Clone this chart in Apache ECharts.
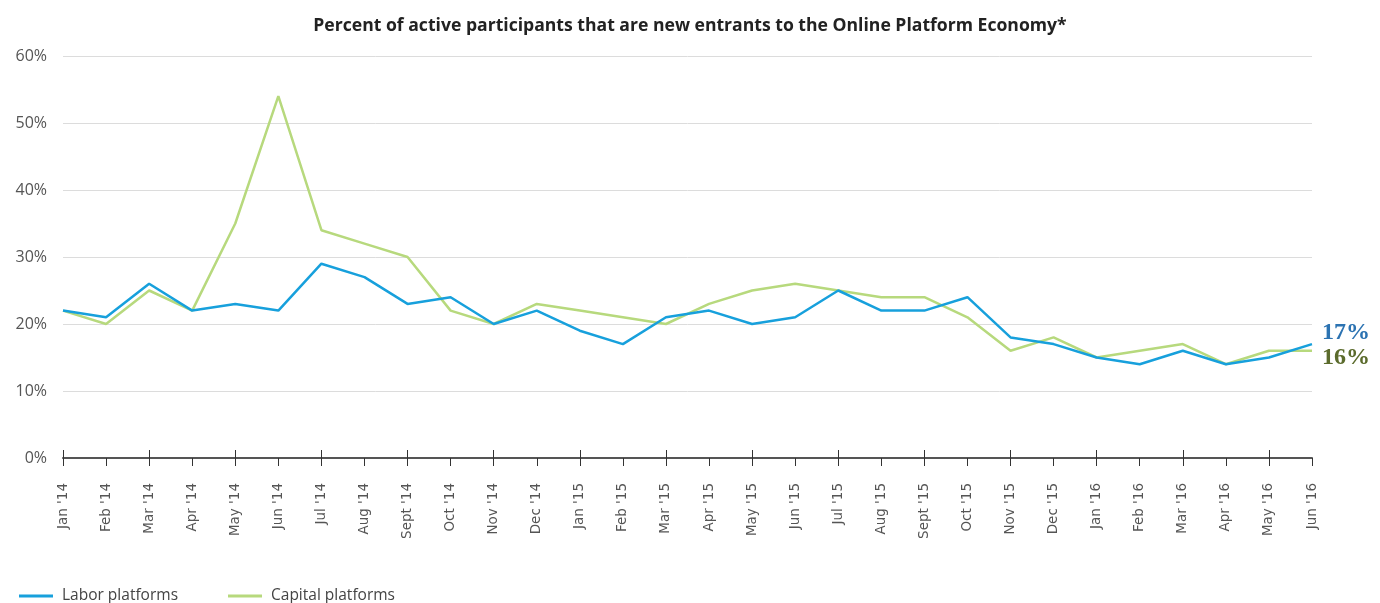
<!DOCTYPE html>
<html><head><meta charset="utf-8">
<script src="https://cdn.jsdelivr.net/npm/echarts@6/dist/echarts.min.js"></script>
<style>html,body{margin:0;padding:0;background:#fff}#c{width:1380px;height:603px}</style>
</head><body><div id="c"></div>
<script>
const categories = ["Jan '14","Feb '14","Mar '14","Apr '14","May '14","Jun '14","Jul '14","Aug '14","Sept '14","Oct '14","Nov '14","Dec '14",
"Jan '15","Feb '15","Mar '15","Apr '15","May '15","Jun '15","Jul '15","Aug '15","Sept '15","Oct '15","Nov '15","Dec '15",
"Jan '16","Feb '16","Mar '16","Apr '16","May '16","Jun '16"];
const laborPlatforms = [22,21,26,22,23,22,29,27,23,24,20,22,19,17,21,22,20,21,25,22,22,24,18,17,15,14,16,14,15,17];
const capitalPlatforms = [22,20,25,22,35,54,34,32,30,22,20,23,22,21,20,23,25,26,25,24,24,21,16,18,15,16,17,14,16,16];
const yTicks = [0,10,20,30,40,50,60];

const condensed = "'Open Sans',sans-serif";
const chart = echarts.init(document.getElementById('c'));
chart.setOption({
  animation:false,
  title:{text:'Percent of active participants that are new entrants to the Online Platform Economy*',left:'center',top:12,
    textStyle:{fontFamily:condensed,fontWeight:'bold',fontSize:17.6,color:'#222'}},
  grid:{left:63,right:68,top:56,bottom:145},
  legend:{left:14,top:583,itemWidth:34,itemHeight:3,itemGap:50,icon:'rect',
    textStyle:{fontFamily:condensed,fontSize:15.5,color:'#444',padding:[0,0,0,4]},
    data:['Labor platforms','Capital platforms']},
  xAxis:[{type:'category',data:categories,boundaryGap:false,
    axisLine:{lineStyle:{color:'#555',width:2}},
    axisTick:{length:8,lineStyle:{color:'#333',width:1}},
    axisLabel:{rotate:90,margin:25,fontFamily:'DejaVu Sans',fontSize:13.5,color:'#555'}},
   {type:'category',data:categories,boundaryGap:false,position:'bottom',
    axisLine:{show:false},axisTick:{inside:true,length:8,lineStyle:{color:'#333',width:1}},axisLabel:{show:false}}],
  yAxis:{type:'value',min:0,max:60,interval:10,
    axisLine:{show:false},axisTick:{show:false},
    splitLine:{lineStyle:{color:'#dcdcdc',width:1}},
    axisLabel:{formatter:v=>yTicks.includes(v)?v+'%':'',fontFamily:condensed,fontSize:16,color:'#555',margin:16}},
  series:[
    {name:'Labor platforms',type:'line',data:laborPlatforms,showSymbol:false,symbol:'none',
     lineStyle:{color:'#17a0dc',width:2.5},itemStyle:{color:'#17a0dc'},z:3,
     endLabel:{show:true,formatter:'{c}%',offset:[2,-11],fontFamily:"'Liberation Serif',serif",fontWeight:'bold',fontSize:24,color:'#2c73b2'}},
    {name:'Capital platforms',type:'line',data:capitalPlatforms,showSymbol:false,symbol:'none',
     lineStyle:{color:'#b7d97d',width:2.5},itemStyle:{color:'#b7d97d'},z:2,
     endLabel:{show:true,formatter:'{c}%',offset:[2,7],fontFamily:"'Liberation Serif',serif",fontWeight:'bold',fontSize:24,color:'#5b6b2c'}}
  ]
});
</script></body></html>
